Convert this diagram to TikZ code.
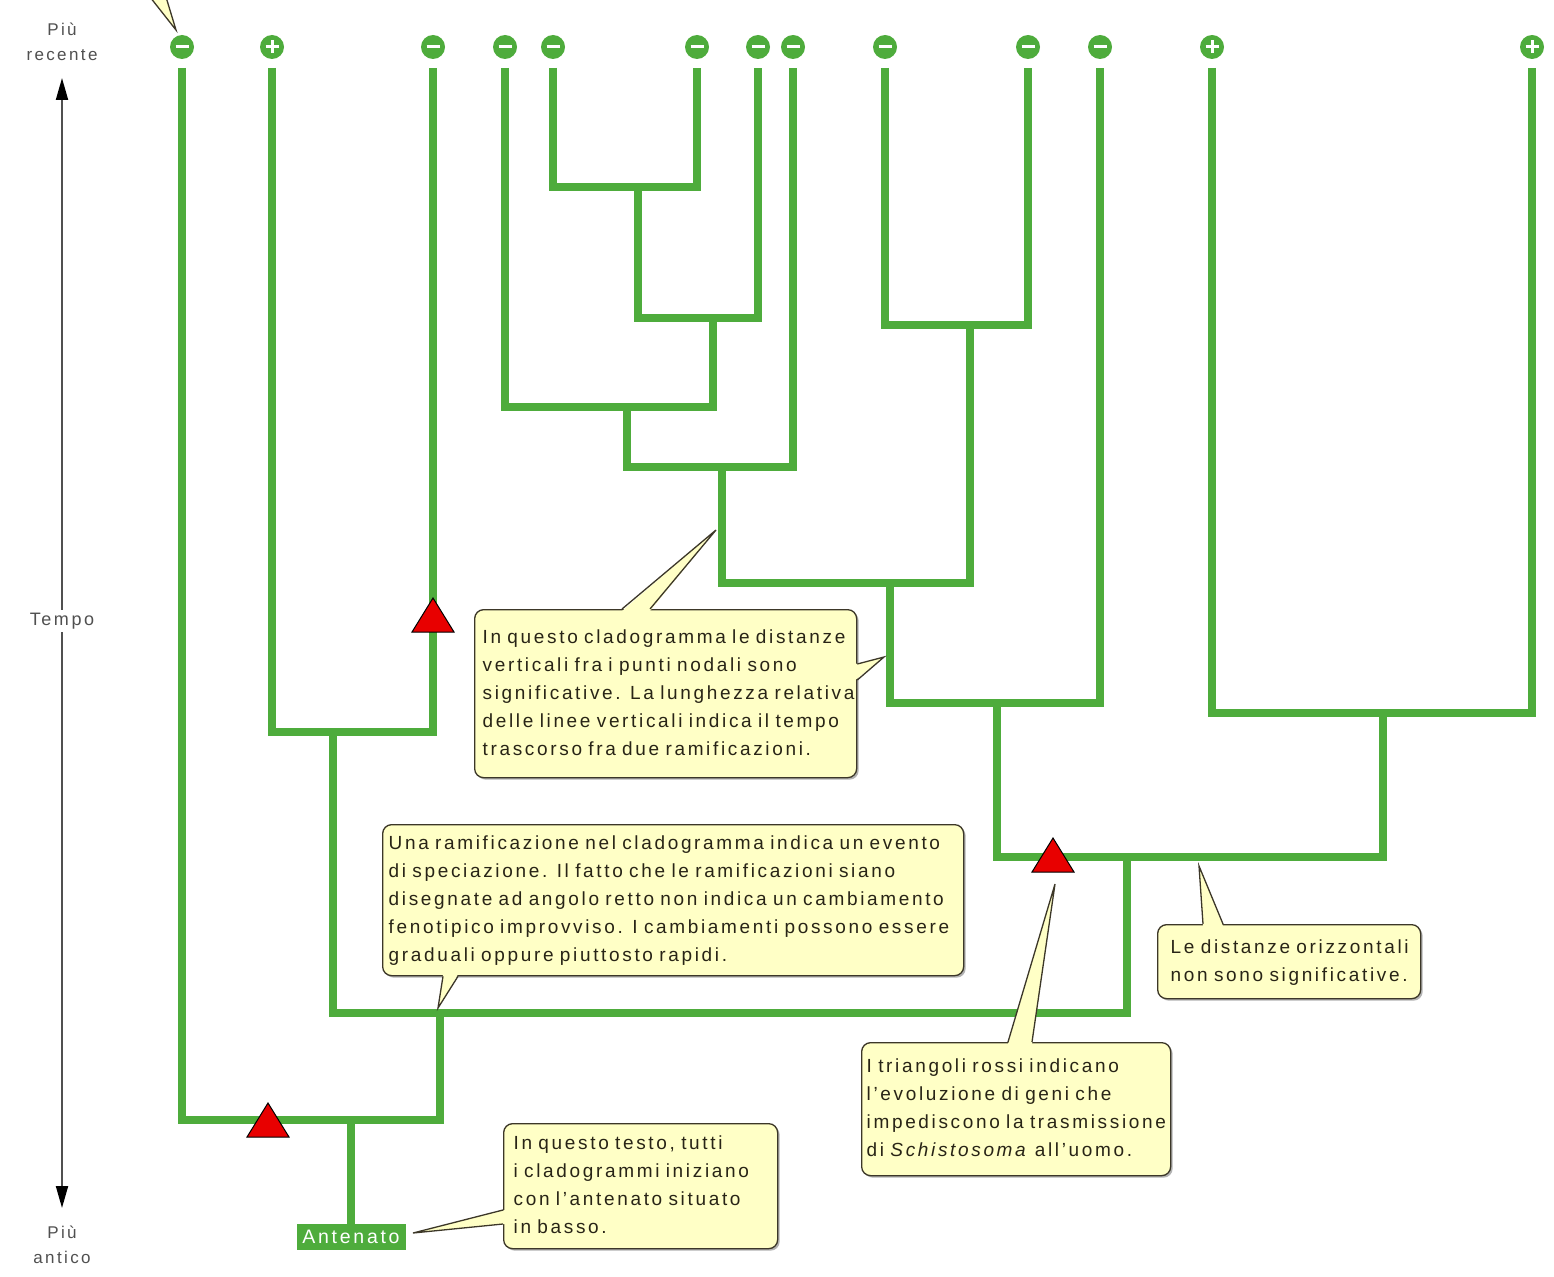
\documentclass[tikz,border=0pt]{standalone}
\usepackage{fontspec}
\setmainfont{Liberation Sans}[LetterSpace=14]
\usetikzlibrary{calc,shadows,arrows.meta}

\definecolor{clade}{RGB}{78,172,60}
\definecolor{notefill}{RGB}{255,255,198}
\definecolor{noteline}{RGB}{60,55,40}
\definecolor{notetext}{RGB}{40,36,22}
\definecolor{axisgray}{RGB}{80,80,80}
\definecolor{markred}{RGB}{232,0,0}

% one row per line, no automatic wrapping
\newcommand{\notelines}[1]{\begin{tabular}{@{}l@{}}#1\end{tabular}}

\begin{document}
\begin{tikzpicture}[x=1pt,y=-1pt,
  leaf/.style={circle,fill=clade,minimum size=24pt,inner sep=0pt,outer sep=9pt},
  sign/.style={white,line width=3pt},
  branch/.style={draw=clade,line width=8pt,line join=miter},
  tri/.style={fill=markred,draw=black,line width=1pt,line join=miter},
  notebox/.style={draw=noteline,fill=notefill,line width=1.3pt,rounded corners=9pt,
    text=notetext,align=left,anchor=north west,inner xsep=8pt,inner ysep=0pt,
    font=\fontsize{19}{28}\selectfont,
    drop shadow={shadow xshift=2pt,shadow yshift=-2pt,opacity=0.3,fill=black}},
  tailfill/.style={fill=notefill},
  tailedge/.style={draw=noteline,line width=1.3pt,line join=miter},
  axislbl/.style={text=axisgray,font=\fontsize{17}{25}\selectfont,align=center,inner sep=3pt},
  axisline/.style={draw=axisgray,line width=2pt}]

\fill[white] (0,0) rectangle (1554,1276);
\useasboundingbox (0,0) rectangle (1554,1276);

% ---- time axis ----
\node[axislbl] (recent) at (62,42) {Più\\recente};
\node[axislbl,font=\fontsize{18}{24}\selectfont] (tempo) at (62,621) {Tempo};
\node[axislbl] (ancient) at (62,1245) {Più\\antico};
\coordinate (upTip) at (62,78);
\coordinate (downTip) at (62,1208);
\draw[axisline,-{Triangle[length=22pt,width=12pt,color=black]}] (tempo.north) -- (upTip);
\draw[axisline,-{Triangle[length=22pt,width=12pt,color=black]}] (tempo.south) -- (downTip);

% ---- leaves ----
\foreach \i/\x/\s in {1/182/m,2/272/p,3/433/m,4/505/m,5/553/m,6/697/m,7/758/m,
                      8/793/m,9/885/m,10/1028/m,11/1100/m,12/1212/p,13/1532/p}{
  \node[leaf] (l\i) at (\x,47) {};
  \draw[sign] ($(l\i.center)+(-6.5,0)$) -- ($(l\i.center)+(6.5,0)$);
  \if\s p\draw[sign] ($(l\i.center)+(0,-6.5)$) -- ($(l\i.center)+(0,6.5)$);\fi
}

% ---- branching points ----
\coordinate (A) at (638,187);
\coordinate (B) at (713,318);
\coordinate (C) at (627,407);
\coordinate (D) at (722,467);
\coordinate (E) at (970,325);
\coordinate (F) at (890,583);
\coordinate (G) at (997,703);
\coordinate (H) at (1383,713);
\coordinate (I) at (1127,857);
\coordinate (J) at (333,732);
\coordinate (K) at (440,1013);
\coordinate (L) at (351,1120);

\node[fill=clade,text=white,minimum width=109pt,minimum height=26pt,inner sep=0pt,
      font=\fontsize{19.5}{22}\selectfont] (ant) at (351,1237) {Antenato};

\draw[branch] (l5.south) |- (A) -| (l6.south);
\draw[branch] (A) |- (B) -| (l7.south);
\draw[branch] (l4.south) |- (C) -| (B);
\draw[branch] (C) |- (D) -| (l8.south);
\draw[branch] (l9.south) |- (E) -| (l10.south);
\draw[branch] (D) |- (F) -| (E);
\draw[branch] (F) |- (G) -| (l11.south);
\draw[branch] (l12.south) |- (H) -| (l13.south);
\draw[branch] (G) |- (I) -| (H);
\draw[branch] (l2.south) |- (J) -| (l3.south);
\draw[branch] (J) |- (K) -| (I);
\draw[branch] (l1.south) |- (L) -| (K);
\draw[branch] (L) -- (ant.north);

% ---- red triangles ----
\coordinate (t1) at (433,615);
\coordinate (t2) at (268,1120);
\coordinate (t3) at (1053,855);
\foreach \t in {t1,t2,t3}
  \draw[tri] ($(\t)+(-21,17)$) -- ($(\t)+(0,-17)$) -- ($(\t)+(21,17)$) -- cycle;

% ---- notes ----
\node[notebox,text width=366pt,minimum height=168pt] (c1) at (474,609) {\notelines{%
In questo cladogramma le distanze\\
verticali fra i punti nodali sono\\
significative. La lunghezza relativa\\
delle linee verticali indica il tempo\\
trascorso fra due ramificazioni.}};

\node[notebox,inner xsep=6pt,text width=569pt,minimum height=151pt] (c2) at (382,824) {\notelines{%
Una ramificazione nel cladogramma indica un evento\\
di speciazione. Il fatto che le ramificazioni siano\\
disegnate ad angolo retto non indica un cambiamento\\
fenotipico improvviso. I cambiamenti possono essere\\
graduali oppure piuttosto rapidi.}};

\node[notebox,inner xsep=5pt,text width=299pt,minimum height=133pt] (c3) at (861,1042) {\notelines{%
I triangoli rossi indicano\\
l'evoluzione di geni che\\
impediscono la trasmissione\\
di \textit{Schistosoma} all'uomo.}};

\node[notebox,inner xsep=13pt,text width=237pt,minimum height=74pt] (c4) at (1157,924) {\notelines{%
Le distanze orizzontali\\
non sono significative.}};

\node[notebox,inner xsep=10pt,text width=254pt,minimum height=125pt] (c5) at (503,1123) {\notelines{%
In questo testo, tutti\\
i cladogrammi iniziano\\
con l'antenato situato\\
in basso.}};

% ---- note pointers ----
\coordinate (p1) at (716,530);
\fill[tailfill] ($(c1.north west)+(148,2)$) -- (p1) -- ($(c1.north west)+(176,2)$) -- cycle;
\draw[tailedge] ($(c1.north west)+(148,0)$) -- (p1) -- ($(c1.north west)+(176,0)$);

\coordinate (p1r) at (884,657);
\fill[tailfill] ($(c1.north east)+(-2,55)$) -- (p1r) -- ($(c1.north east)+(-2,71)$) -- cycle;
\draw[tailedge] ($(c1.north east)+(0,55)$) -- (p1r) -- ($(c1.north east)+(0,71)$);

\coordinate (p2) at (438,1008);
\fill[tailfill] ($(c2.south west)+(61,-2)$) -- (p2) -- ($(c2.south west)+(76,-2)$) -- cycle;
\draw[tailedge] ($(c2.south west)+(61,0)$) -- (p2) -- ($(c2.south west)+(76,0)$);

\coordinate (p3) at (1055,884);
\fill[tailfill] ($(c3.north west)+(147,2)$) -- (p3) -- ($(c3.north west)+(171,2)$) -- cycle;
\draw[tailedge] ($(c3.north west)+(147,0)$) -- (p3) -- ($(c3.north west)+(171,0)$);

\coordinate (p4) at (1199,866);
\fill[tailfill] ($(c4.north west)+(46,2)$) -- (p4) -- ($(c4.north west)+(66,2)$) -- cycle;
\draw[tailedge] ($(c4.north west)+(46,0)$) -- (p4) -- ($(c4.north west)+(66,0)$);

\coordinate (p5) at (413,1233);
\fill[tailfill] ($(c5.north west)+(2,87)$) -- (p5) -- ($(c5.north west)+(2,101)$) -- cycle;
\draw[tailedge] ($(c5.north west)+(0,87)$) -- (p5) -- ($(c5.north west)+(0,101)$);

% pointer of a note lying above the drawing's top edge
\coordinate (p0) at (176,30);
\fill[tailfill] (150,-3) -- (p0) -- (166,-3) -- cycle;
\draw[tailedge] (150,-3) -- (p0) -- (166,-3);

\end{tikzpicture}
\end{document}
